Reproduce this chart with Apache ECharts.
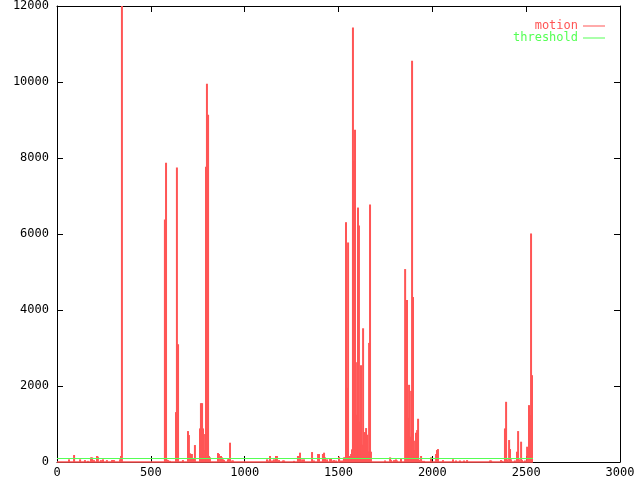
<!DOCTYPE html>
<html>
<head>
<meta charset="utf-8">
<script src="https://cdn.jsdelivr.net/npm/echarts@6/dist/echarts.min.js"></script>
<style>html,body{margin:0;padding:0;background:#fff}#c{width:640px;height:480px}</style>
</head>
<body>
<div id="c"></div>
<script>
// motion samples: [frame, value]
var motionData = [
[64,70],[91,184],[123,70],[149,50],[165,30],[181,122],[187,122],[197,50],[213,158],[218,140],
[234,50],[245,70],[266,50],[293,50],[298,50],[304,50],[336,70],[341,158],[346,12000],
[575,6381],[581,7878],[586,60],[592,50],[602,30],[634,1313],[639,7747],[645,3099],[671,50],
[698,814],[703,709],[709,228],[714,158],[719,210],[725,96],[735,446],
[762,884],[767,1549],[773,1549],[778,884],[783,315],[789,735],[794,7773],[799,9953],[805,9138],[810,158],[815,122],
[858,236],[863,210],[874,158],[879,122],[885,70],[890,50],[911,70],[916,96],[922,508],[933,40],[938,40],
[1119,70],[1124,40],[1135,158],[1146,40],[1156,70],[1167,158],[1172,158],[1183,50],[1204,40],[1210,40],
[1263,30],[1284,158],[1290,158],[1295,245],[1306,70],[1316,70],[1359,262],[1369,40],[1391,210],[1396,210],
[1417,210],[1423,245],[1428,122],[1439,70],
[1455,96],[1460,96],[1465,40],[1476,50],[1487,40],[1503,140],[1513,40],[1524,40],[1529,122],[1535,122],
[1540,6311],[1545,1952],[1551,5777],[1556,50],[1561,158],[1567,210],[1572,333],[1577,11432],[1583,7930],
[1588,8745],[1593,1243],[1599,2626],[1604,6696],[1609,6224],[1615,1059],[1620,2547],[1625,455],[1631,3519],
[1636,613],[1641,788],[1647,893],[1652,718],[1657,280],[1663,3134],[1668,6775],[1673,271],
[1748,40],[1775,122],[1780,50],[1796,50],[1806,70],[1812,40],[1833,96],
[1855,5077],[1860,3422],[1865,4263],[1871,1164],[1876,2031],[1881,665],[1887,1873],[1892,10557],[1897,4341],
[1903,315],[1908,560],[1913,770],[1919,840],[1924,1138],[1929,60],[1940,158],[1945,30],[1956,30],
[1993,122],[2020,210],[2025,315],[2030,341],[2057,50],[2110,70],[2126,40],[2147,40],[2169,40],[2185,50],
[2307,40],[2313,40],[2366,50],[2371,30],[2387,884],[2393,1584],[2398,70],[2409,578],[2414,341],[2419,70],
[2440,40],[2451,271],[2457,814],[2462,70],[2473,534],[2478,50],[2494,40],[2505,402],[2510,245],
[2515,1497],[2521,1234],[2526,6014],[2531,2285]
];
var baselineData = [[0,0],[2536,0]];
var thresholdData = [[0,92],[2536,92]];
var xTicks = [0,500,1000,1500,2000,2500,3000];
var yTicks = [0,2000,4000,6000,8000,10000,12000];

var FONT = 'DejaVu Sans Mono';
var RED = '#ff5555', GREEN = '#55ff55';
var chart = echarts.init(document.getElementById('c'), null, {renderer:'canvas'});
function plain(v){ return String(v); }
var axisCommon = {
  axisLine:{show:true, onZero:false, lineStyle:{color:'#000', width:1}},
  axisTick:{show:true, inside:true, length:6, lineStyle:{color:'#000'}},
  splitLine:{show:false}
};
chart.setOption({
  animation:false,
  backgroundColor:'#fff',
  grid:{left:57, right:20, top:5, bottom:18, containLabel:false},
  legend:{
    orient:'vertical', right:30, top:15, align:'right',
    itemWidth:22, itemHeight:1, itemGap:0, icon:'rect',
    textStyle:{fontFamily:FONT, fontSize:12, lineHeight:11},
    data:[
      {name:'motion', textStyle:{color:RED}, itemStyle:{color:RED}},
      {name:'threshold', textStyle:{color:GREEN}, itemStyle:{color:GREEN}}
    ]
  },
  xAxis:[
    Object.assign({type:'value', min:xTicks[0], max:xTicks[xTicks.length-1], interval:500, position:'bottom',
      axisLabel:{color:'#000', fontFamily:FONT, fontSize:12, margin:5, formatter:plain}}, axisCommon),
    Object.assign({type:'value', min:xTicks[0], max:xTicks[xTicks.length-1], interval:500, position:'top',
      axisLabel:{show:false}}, axisCommon)
  ],
  yAxis:[
    Object.assign({type:'value', min:yTicks[0], max:yTicks[yTicks.length-1], interval:2000, position:'left',
      axisLabel:{color:'#000', fontFamily:FONT, fontSize:12, margin:8, formatter:plain}}, axisCommon),
    Object.assign({type:'value', min:yTicks[0], max:yTicks[yTicks.length-1], interval:2000, position:'right',
      axisLabel:{show:false}}, axisCommon)
  ],
  series:[
    {name:'motion', type:'bar', data:motionData, barWidth:2, itemStyle:{color:RED}, clip:true, silent:true, z:2},
    {name:'motion', type:'line', data:baselineData, symbol:'none', lineStyle:{color:RED, width:1.5}, itemStyle:{color:RED}, clip:false, silent:true, z:3},
    {name:'threshold', type:'line', data:thresholdData, symbol:'none', lineStyle:{color:GREEN, width:1.2}, itemStyle:{color:GREEN}, silent:true, z:4}
  ]
});
</script>
</body>
</html>
